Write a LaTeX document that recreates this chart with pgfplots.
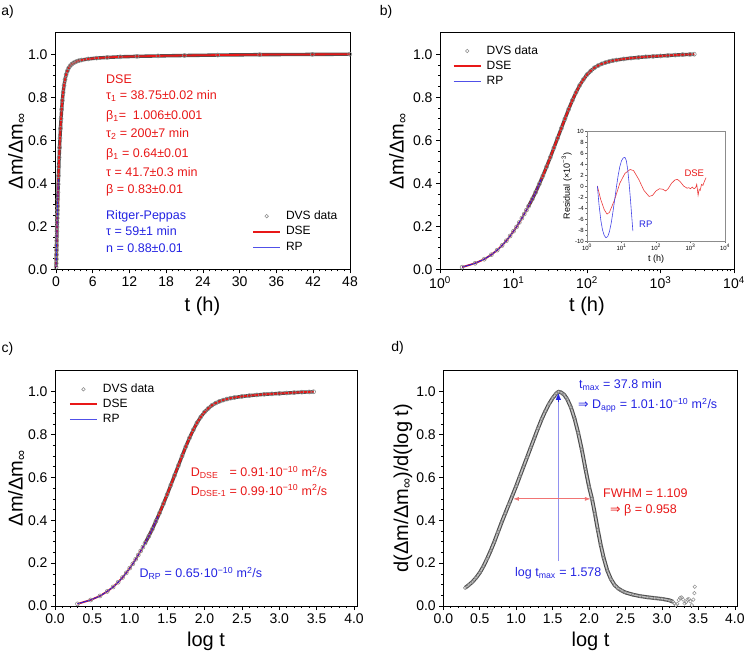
\documentclass[border=0pt]{standalone}
\usepackage{fontspec}
\setmainfont{Liberation Sans}
\newfontfamily\symfont{DejaVu Sans}
\usepackage{pgfplots}
\usepackage{pgfplotstable}
\pgfplotsset{compat=1.18}
\usetikzlibrary{arrows.meta}

\definecolor{dsered}{RGB}{232,24,24}
\definecolor{rpblue}{RGB}{36,36,226}

\newlength\dselen

% sorption uptake: lt = log10(t/min), normalised mass gain (data and DSE fit)
\pgfplotstableread{
lt     dvs    dse
0.301  0.010  0.010
0.477  0.028  0.028
0.602  0.047  0.047
0.699  0.068  0.068
0.778  0.089  0.089
0.845  0.111  0.111
0.903  0.133  0.133
0.954  0.155  0.155
1.000  0.177  0.177
1.041  0.197  0.197
1.079  0.218  0.218
1.114  0.238  0.238
1.146  0.257  0.257
1.176  0.275  0.275
1.204  0.293  0.293
1.255  0.326  0.326
1.301  0.358  0.358
1.350  0.396  0.396
1.400  0.435  0.435
1.450  0.477  0.477
1.500  0.520  0.520
1.550  0.565  0.565
1.600  0.610  0.610
1.650  0.655  0.655
1.700  0.700  0.700
1.750  0.744  0.744
1.800  0.785  0.785
1.850  0.822  0.822
1.900  0.855  0.855
1.950  0.882  0.882
2.000  0.905  0.905
2.050  0.922  0.922
2.100  0.937  0.937
2.150  0.947  0.947
2.200  0.955  0.955
2.250  0.961  0.961
2.300  0.966  0.966
2.350  0.970  0.970
2.400  0.973  0.973
2.500  0.978  0.978
2.600  0.982  0.982
2.700  0.985  0.985
2.800  0.988  0.988
2.900  0.990  0.990
3.000  0.992  0.992
3.100  0.994  0.994
3.200  0.996  0.996
3.300  0.998  0.998
3.400  0.999  0.999
3.459  1.000  1.000
}\uptake

% Ritger-Peppas fit (short-time part only)
\pgfplotstableread{
lt     rp
0.301  0.010
0.477  0.028
0.602  0.047
0.699  0.068
0.778  0.089
0.845  0.111
0.903  0.133
0.954  0.155
1.000  0.177
1.041  0.197
1.079  0.218
1.114  0.238
1.146  0.257
1.176  0.275
1.204  0.293
1.255  0.326
1.301  0.358
1.350  0.396
1.380  0.419
}\rpfit

% normalised derivative d(dm/dm_inf)/d(log t)
\pgfplotstableread{
lt    d
0.30  0.085
0.35  0.098
0.40  0.113
0.45  0.132
0.50  0.155
0.55  0.185
0.60  0.220
0.65  0.258
0.70  0.300
0.75  0.345
0.80  0.390
0.85  0.433
0.90  0.475
0.95  0.517
1.00  0.560
1.05  0.605
1.10  0.650
1.15  0.695
1.20  0.740
1.25  0.785
1.30  0.830
1.35  0.872
1.40  0.910
1.45  0.943
1.50  0.970
1.55  0.992
1.58  1.000
1.62  0.996
1.66  0.985
1.70  0.965
1.75  0.928
1.80  0.875
1.85  0.808
1.90  0.730
1.95  0.640
2.00  0.555
2.04  0.500
2.08  0.430
2.12  0.355
2.16  0.285
2.20  0.225
2.25  0.165
2.30  0.125
2.35  0.098
2.40  0.082
2.45  0.071
2.50  0.063
2.60  0.053
2.70  0.046
2.80  0.041
2.90  0.037
3.00  0.033
3.10  0.027
3.15  0.020
}\deriv

% noisy end of the derivative
\pgfplotstableread{
lt     d
3.170  0.012
3.190  0.004
3.210  0.010
3.230  0.028
3.250  0.038
3.270  0.040
3.290  0.030
3.310  0.012
3.330  0.018
3.350  0.030
3.370  0.032
3.390  0.022
3.410  0.004
3.430  0.030
3.445  0.060
3.450  0.090
}\derivtail

% residuals (x 1e-3)
\pgfplotstableread{
lt    dse
0.30  0.0
0.40 -2.5
0.50 -4.3
0.58 -5.1
0.65 -4.8
0.80 -2.5
0.95  0.5
1.10  2.3
1.25  3.0
1.35  2.8
1.50  1.2
1.65 -0.8
1.80 -1.9
1.90 -1.7
2.00 -0.9
2.10 -0.5
2.20 -0.6
2.28 -0.9
2.35 -0.5
2.45  0.5
2.55  1.1
2.62  1.2
2.70  0.8
2.80  0.0
2.90 -0.4
2.95 -0.3
3.00 -0.5
3.05 -0.2
3.10 -0.5
3.15 -0.3
3.18  0.3
3.20 -0.6
3.22 -1.7
3.25 -0.6
3.28 -0.8
3.32  0.3
3.36  0.1
3.40  0.8
3.45  1.5
}\resdse

\pgfplotstableread{
lt    rp
0.30  0.0
0.35 -3.5
0.40 -6.2
0.45 -8.0
0.50 -9.0
0.55 -9.4
0.60 -9.2
0.65 -8.3
0.70 -6.8
0.75 -4.8
0.80 -2.6
0.85 -0.3
0.90  1.8
0.95  3.5
1.00  4.6
1.05  5.1
1.10  5.2
1.14  4.6
1.18  3.0
1.22  0.5
1.26 -2.5
1.30 -5.8
1.33 -8.2
}\resrp

\pgfplotsset{
  panel/.style={
    scale only axis,
    axis line style={line width=0.8pt},
    tick pos=left, tick align=outside,
    major tick length=4pt, minor tick length=2pt,
    tick style={black, line width=0.6pt},
    ticklabel style={font=\fontsize{14}{16}\selectfont},
    /pgf/number format/assume math mode=true,
    label style={font=\fontsize{20}{24}\selectfont},
    legend cell align=left,
    legend style={draw=none, fill=none, inner sep=0pt, anchor=north west,
      font=\fontsize{12}{14}\selectfont, column sep=4pt, row sep=1.5pt,
      nodes={inner sep=1pt, text height=9pt, text depth=2.5pt}},
  },
  zerofill y/.style={yticklabel style={/pgf/number format/.cd, fixed, fixed zerofill, precision=1}},
  zerofill x/.style={xticklabel style={/pgf/number format/.cd, fixed, fixed zerofill, precision=1}},
  dvs band/.style={draw=black!68, line width=3.4pt, line join=round, forget plot},
  dvs marks/.style={only marks, mark=o, mark size=2pt, draw=black!45, line width=0.6pt,
    legend image code/.code={\path (0pt,0pt) (27pt,0pt);
      \draw[black!45, line width=0.6pt] (13.5pt,0pt) circle[radius=1.8pt];}},
  dse line/.style={dsered, line width=1.8pt, line join=round,
    legend image code/.code={\draw[dsered, line width=1.8pt] (0pt,0pt) -- (27pt,0pt);}},
  rp line/.style={rpblue, line width=0.9pt,
    legend image code/.code={\draw[rpblue!80, line width=0.9pt] (0pt,0pt) -- (27pt,0pt);}},
  logticks/.style={
    xtick={1,10,100,1000,10000},
    xticklabels={10\textsuperscript{0},10\textsuperscript{1},10\textsuperscript{2},10\textsuperscript{3},10\textsuperscript{4}},
    minor xtick={2,3,4,5,6,7,8,9,20,30,40,50,60,70,80,90,200,300,400,500,600,700,800,900,2000,3000,4000,5000,6000,7000,8000,9000},
  },
}

\begin{document}
\begin{tikzpicture}
\useasboundingbox (0,0) rectangle (749pt,657pt);

% ---------- a) linear time ----------
\begin{axis}[panel, zerofill y,
  at={(55pt,387.7pt)}, anchor=south west, width=295pt, height=236.6pt,
  xmin=-0.15, xmax=48, ymin=0, ymax=1.1,
  xtick={0,6,...,48}, minor x tick num=5,
  ytick={0,0.2,...,1.0}, minor y tick num=3,
  xlabel={t (h)}, ylabel={Δm/Δm\textsubscript{∞}},
  xlabel style={at={(axis description cs:0.5,0)}, anchor=center, yshift=-36.7pt},
  ylabel style={at={(axis description cs:-0.129,0.5)}, anchor=center},
  legend style={at={(0.668,0.254)}, row sep=2pt},
  clip=false,
]
\addplot[dvs band] table[x expr={10^(\thisrow{lt})/60}, y=dvs] {\uptake};
\addplot[dvs marks] table[x expr={10^(\thisrow{lt})/60}, y=dvs] {\uptake};
\addplot[dse line] table[x expr={10^(\thisrow{lt})/60}, y=dse] {\uptake};
\addplot[rp line] table[x expr={10^(\thisrow{lt})/60}, y=rp] {\rpfit};
\legend{DVS data, DSE, RP}
\end{axis}

% ---------- b) logarithmic time ----------
\begin{axis}[panel, zerofill y, logticks,
  at={(440pt,387.7pt)}, anchor=south west, width=294pt, height=236.6pt,
  xmode=log, xmin=1, xmax=1e4, ymin=0, ymax=1.1,
  ytick={0,0.2,...,1.0}, minor y tick num=3,
  xlabel={t (h)}, ylabel={Δm/Δm\textsubscript{∞}},
  xlabel style={at={(axis description cs:0.5,0)}, anchor=center, yshift=-36.7pt},
  ylabel style={at={(axis description cs:-0.143,0.5)}, anchor=center},
  legend style={at={(0.043,0.952)}},
]
\addplot[dvs band, skip coords between index={0}{14}] table[x expr={10^(\thisrow{lt})}, y=dvs] {\uptake};
\addplot[dvs marks] table[x expr={10^(\thisrow{lt})}, y=dvs] {\uptake};
\addplot[dse line] table[x expr={10^(\thisrow{lt})}, y=dse] {\uptake};
\addplot[rp line] table[x expr={10^(\thisrow{lt})}, y=rp] {\rpfit};
\legend{DVS data, DSE, RP}
\end{axis}

% inset: fit residuals
\begin{axis}[scale only axis, logticks,
  at={(587pt,416pt)}, anchor=south west, width=138pt, height=110pt,
  xmode=log, xmin=1, xmax=1e4, ymin=-10, ymax=10,
  ytick={-10,-8,...,10}, minor y tick num=1,
  axis line style={black!45, line width=0.6pt},
  tick pos=left, tick align=outside, major tick length=2pt, minor tick length=1pt,
  tick style={black!60, line width=0.4pt},
  ticklabel style={font=\fontsize{6}{7}\selectfont, inner sep=1pt},
  /pgf/number format/assume math mode=true,
  label style={font=\fontsize{9}{10}\selectfont},
  xlabel={t (h)}, ylabel={Residual (×10\textsuperscript{−3})},
  xlabel style={at={(axis description cs:0.5,0)}, anchor=center, yshift=-18pt},
  ylabel style={at={(axis description cs:-0.147,0.5)}, anchor=center},
]
\addplot[dsered!85, line width=0.6pt] table[x expr={10^(\thisrow{lt})}, y=dse] {\resdse};
\addplot[rpblue!85, line width=0.6pt] table[x expr={10^(\thisrow{lt})}, y=rp] {\resrp};
\end{axis}
\node[font=\fontsize{9.5}{11}\selectfont, text=rpblue, anchor=west] at (635.7pt,432.7pt) {RP};
\node[font=\fontsize{9.5}{11}\selectfont, text=dsered, anchor=west] at (681pt,483.7pt) {DSE};

% ---------- c) versus log t ----------
\begin{axis}[panel, zerofill y, zerofill x,
  at={(55pt,51pt)}, anchor=south west, width=302pt, height=235.7pt,
  xmin=0, xmax=4.04, ymin=0, ymax=1.1,
  xtick={0,0.5,...,4}, minor x tick num=4,
  ytick={0,0.2,...,1.0}, minor y tick num=3,
  xlabel={log t}, ylabel={Δm/Δm\textsubscript{∞}},
  xlabel style={at={(axis description cs:0.5,0)}, anchor=center, yshift=-35pt},
  ylabel style={at={(axis description cs:-0.126,0.5)}, anchor=center},
  legend style={at={(0.046,0.949)}},
]
\addplot[dvs band, skip coords between index={0}{14}] table[x=lt, y=dvs] {\uptake};
\addplot[dvs marks] table[x=lt, y=dvs] {\uptake};
\addplot[dse line] table[x=lt, y=dse] {\uptake};
\addplot[rp line] table[x=lt, y=rp] {\rpfit};
\legend{DVS data, DSE, RP}
\end{axis}

% ---------- d) derivative ----------
\begin{axis}[panel, zerofill y, zerofill x,
  at={(443.3pt,51pt)}, anchor=south west, width=294.5pt, height=235.7pt,
  xmin=0, xmax=4.04, ymin=0, ymax=1.1,
  xtick={0,0.5,...,4}, minor x tick num=4,
  ytick={0,0.2,...,1.0}, minor y tick num=3,
  xlabel={log t}, ylabel={d(Δm/Δm\textsubscript{∞})/d(log t)},
  xlabel style={at={(axis description cs:0.5,0)}, anchor=center, yshift=-35pt},
  ylabel style={at={(axis description cs:-0.137,0.5)}, anchor=center},
]
\addplot[draw=black!70, line width=3.8pt, line join=round] table[x=lt, y=d] {\deriv};
\addplot[draw=black!25, line width=1.6pt, line join=round] table[x=lt, y=d] {\deriv};
\addplot[only marks, mark=o, mark size=1.8pt, draw=black!50, line width=0.5pt] table[x=lt, y=d] {\deriv};
\addplot[only marks, mark=o, mark size=1.8pt, draw=black!45, line width=0.5pt] table[x=lt, y=d] {\derivtail};
\draw[rpblue!50, line width=0.9pt] (axis cs:1.578,0.21) -- (axis cs:1.578,0.975);
\draw[-{Latex[length=7pt,width=5pt]}, rpblue, line width=0.1pt] (axis cs:1.578,0.95) -- (axis cs:1.578,0.995);
\draw[{Latex[length=6pt,width=4pt]}-{Latex[length=6pt,width=4pt]}, dsered!60, line width=0.9pt]
  (axis cs:0.955,0.5) -- (axis cs:2.025,0.5);
\end{axis}

% ---------- annotations ----------
\begin{scope}[every node/.style={anchor=base west, inner sep=0pt, font=\fontsize{12.5}{15}\selectfont}]
  \begin{scope}[every node/.append style={text=dsered}]
    \node at (106pt,573.0pt) {DSE};
    \node at (106pt,557.2pt) {τ\textsubscript{1} = 38.75±0.02 min};
    \node at (106pt,537.5pt) {β\textsubscript{1}=\ \ 1.006±0.001};
    \node at (106pt,519.0pt) {τ\textsubscript{2} = 200±7 min};
    \node at (106pt,499.5pt) {β\textsubscript{1} = 0.64±0.01};
    \node at (106pt,480.5pt) {τ = 41.7±0.3 min};
    \node at (106pt,463.5pt) {β = 0.83±0.01};
    \node at (190.7pt,180.3pt) {\settowidth{\dselen}{D\textsubscript{DSE-1}}\makebox[\dselen][l]{D\textsubscript{DSE}} = 0.91·10\textsuperscript{−10} m\textsuperscript{2}/s};
    \node at (190.7pt,162.0pt) {D\textsubscript{DSE-1} = 0.99·10\textsuperscript{−10} m\textsuperscript{2}/s};
    \node at (603pt,160pt) {FWHM = 1.109};
    \node at (610pt,143.2pt) {{\symfont ⇒} β = 0.958};
  \end{scope}
  \begin{scope}[every node/.append style={text=rpblue}]
    \node at (106pt,437.5pt) {Ritger-Peppas};
    \node at (106pt,421.5pt) {τ = 59±1 min};
    \node at (106pt,404.0pt) {n = 0.88±0.01};
    \node at (139.3pt,79.5pt) {D\textsubscript{RP} = 0.65·10\textsuperscript{−10} m\textsuperscript{2}/s};
    \node at (579pt,268.3pt) {t\textsubscript{max} = 37.8 min};
    \node at (578pt,248.3pt) {{\symfont ⇒} D\textsubscript{app} = 1.01·10\textsuperscript{−10} m\textsuperscript{2}/s};
    \node at (515pt,80.7pt) {log t\textsubscript{max} = 1.578};
  \end{scope}
\end{scope}

% panel letters
\begin{scope}[every node/.style={font=\fontsize{14}{16}\selectfont, inner sep=0pt}]
  \node at (7.5pt,645pt) {a)};
  \node at (386pt,645pt) {b)};
  \node at (7.5pt,308pt) {c)};
  \node at (397.5pt,309pt) {d)};
\end{scope}
\end{tikzpicture}
\end{document}
